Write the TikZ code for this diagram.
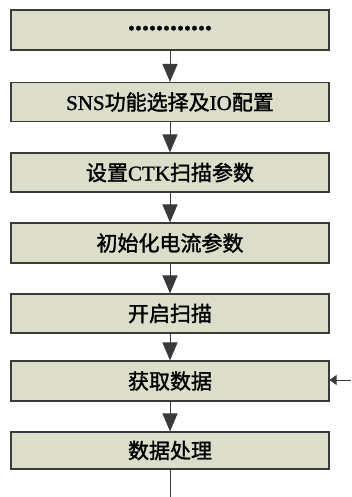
\documentclass[tikz,border=0pt]{standalone}
\usepackage{fontspec}
\newfontfamily\cjk{Noto Sans CJK SC}[FakeBold=1.6]
\newfontfamily\lat{Liberation Serif}[FakeBold=1.2]
\usetikzlibrary{arrows.meta}
\definecolor{boxfill}{HTML}{DDDEC9}
\definecolor{edge}{HTML}{3A3A3A}
\tikzset{
  stepbox/.style={draw=edge, line width=1.1pt, fill=boxfill, minimum width=318pt, minimum height=39pt, inner sep=0pt, font=\cjk\fontsize{21}{24}\selectfont},
  flow/.style={draw=edge, line width=1pt, -{Triangle[width=15pt,length=18pt]}},
  side/.style={draw=edge, line width=1pt, -{Triangle[width=10pt,length=7pt]}},
  plain/.style={draw=edge, line width=1pt}
}
\begin{document}
\begin{tikzpicture}[x=1pt,y=1pt]
\useasboundingbox (0,0) rectangle (351,-497);
\node[stepbox, minimum height=40pt] (b1) at (170,-30) {\raisebox{4pt}{\lat\bfseries\fontsize{28}{28}\selectfont ............}};
\node[stepbox] (b2) at (170,-102) {{\lat SNS}功能选择及{\lat IO}配置};
\node[stepbox] (b3) at (170,-172.5) {设置{\lat CTK}扫描参数};
\node[stepbox, minimum height=40pt] (b4) at (170,-243) {初始化电流参数};
\node[stepbox] (b5) at (170,-313.5) {开启扫描};
\node[stepbox, minimum height=40pt] (b6) at (170,-381) {获取数据};
\node[stepbox, minimum height=37pt] (b7) at (170,-450.5) {数据处理};
\coordinate (rin) at (351,-380);
\coordinate (bend) at (170,-497);
\draw[flow] (b1) -- (b2);
\draw[flow] (b2) -- (b3);
\draw[flow] (b3) -- (b4);
\draw[flow] (b4) -- (b5);
\draw[flow] (b5) -- (b6);
\draw[flow] (b6) -- (b7);
\draw[plain] (b7) -- (bend);
\draw[side] (rin) -- (b6.east |- rin);
\end{tikzpicture}
\end{document}
